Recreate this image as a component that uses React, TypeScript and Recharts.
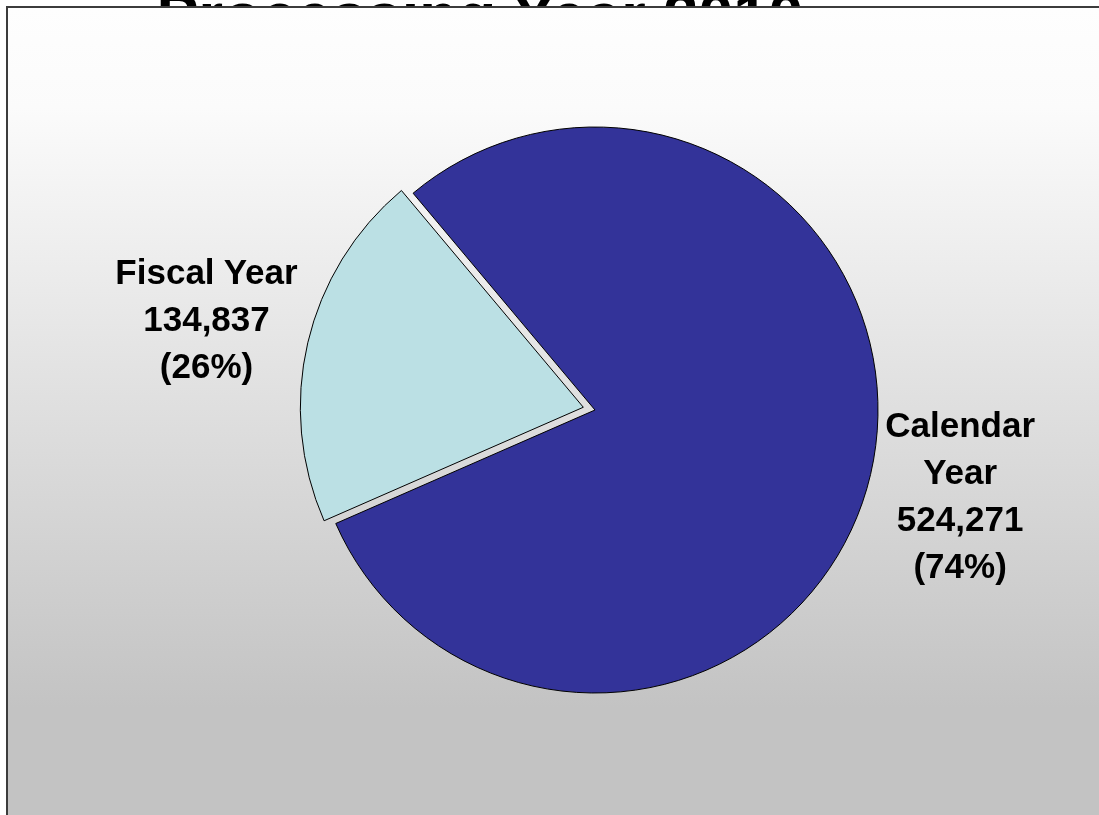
import { PieChart, Pie, Cell, Sector } from 'recharts';

// Processing year 2010 split
const categories = ['Fiscal Year', 'Calendar Year'];
const counts = [134837, 524271];
const percentLabels = ['(26%)', '(74%)'];
const labelLines = [['Fiscal Year'], ['Calendar', 'Year']];
const COLORS = ['#bbe0e4', '#333399'];

const chartData = categories.map((name, i) => ({ name, value: counts[i] }));

const RADIAN = Math.PI / 180;
const EXPLODE = 'Fiscal Year';
const FONT = '"Liberation Sans", Arial, sans-serif';

function ExplodedSector(props: any) {
  const { cx, cy, startAngle, endAngle, payload } = props;
  if (payload?.name !== EXPLODE) return <Sector {...props} />;
  const mid = (startAngle + endAngle) / 2;
  const dx = 12 * Math.cos(-mid * RADIAN);
  const dy = 12 * Math.sin(-mid * RADIAN);
  return <Sector {...props} cx={cx + dx} cy={cy + dy} />;
}

function renderLabel(props: any) {
  const { cx, cy, midAngle, outerRadius, index, value } = props;
  const r = outerRadius + (index === 0 ? 116 : 92);
  const x = cx + r * Math.cos(-midAngle * RADIAN);
  const y = cy + r * Math.sin(-midAngle * RADIAN);
  const lines = [...labelLines[index], value.toLocaleString('en-US'), percentLabels[index]];
  const lh = 47;
  const first = y - ((lines.length - 1) * lh) / 2 + 12;
  return (
    <text
      x={x}
      y={first}
      textAnchor="middle"
      fill="#000"
      fontFamily={FONT}
      fontWeight="bold"
      fontSize={35}
    >
      {lines.map((t, i) => (
        <tspan key={i} x={x} dy={i === 0 ? 0 : lh}>
          {t}
        </tspan>
      ))}
    </text>
  );
}

export default function App() {
  return (
    <div
      style={{
        position: 'fixed',
        left: 0,
        top: 0,
        width: 1099,
        height: 815,
        overflow: 'hidden',
      }}
    >
      <style>{`body{margin:0}`}</style>
      <svg
        width={1099}
        height={80}
        style={{ position: 'absolute', left: 0, top: 0 }}
      >
        <text
          x={480}
          y={37}
          textAnchor="middle"
          fontFamily={FONT}
          fontWeight="bold"
          fontSize={63}
          fill="#000"
        >
          Processing Year 2010
        </text>
      </svg>
      <div
        style={{
          position: 'absolute',
          left: 6,
          top: 6,
          width: 1400,
          height: 1000,
          borderLeft: '2px solid #3c3c3c',
          borderTop: '2px solid #3c3c3c',
          background:
            'linear-gradient(to bottom, #fefefe 0px, #fbfbfb 100px, #c3c3c3 700px, #c3c3c3 1000px)',
        }}
      />
      <div style={{ position: 'absolute', left: 0, top: 0 }}>
        <PieChart width={1099} height={815}>
          <Pie
            data={chartData}
            dataKey="value"
            nameKey="name"
            cx={590}
            cy={405}
            outerRadius={283}
            startAngle={130}
            endAngle={490}
            stroke="#000"
            strokeWidth={1}
            shape={ExplodedSector}
            label={renderLabel}
            labelLine={false}
            isAnimationActive={false}
          >
            {chartData.map((d, i) => (
              <Cell key={d.name} fill={COLORS[i]} />
            ))}
          </Pie>
        </PieChart>
      </div>
    </div>
  );
}
